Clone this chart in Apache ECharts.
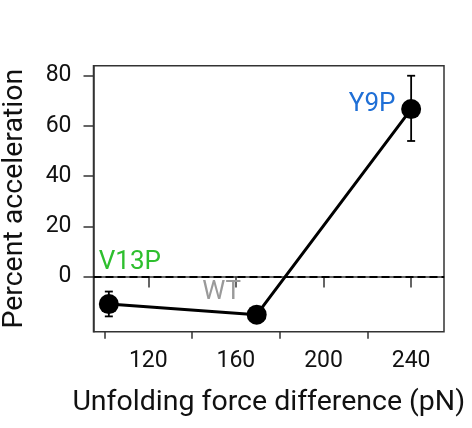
<!DOCTYPE html>
<html>
<head>
<meta charset="utf-8">
<script src="https://cdn.jsdelivr.net/npm/echarts@6/dist/echarts.min.js"></script>
<style>
  html, body { margin: 0; padding: 0; background: #fff; }
  #chart { width: 472px; height: 428px; }
</style>
</head>
<body>
<div id="chart"></div>
<script>
// data
let mutants = ['V13P', 'WT', 'Y9P'];
let forceDiff = [102, 169.5, 240];
let accel = [-11, -15.2, 66.7];
let errLow = [-15.9, -15.2, 54];
let errHigh = [-6, -15.2, 80];
let labelColors = ['#2ebf2e', '#9a9a9a', '#1f6fd6'];
let labelOffsets = [[21, -42], [-35, -22], [-39, -5]];

let xTicks = [120, 160, 200, 240];
let xMinorTicks = [100, 140, 180, 220];
let yTicks = [0, 20, 40, 60, 80];

let font = 'Roboto';
let chart = echarts.init(document.getElementById('chart'));

let points = forceDiff.map(function (x, i) {
	return {
		value: [x, accel[i]],
		label: {
			show: true,
			formatter: mutants[i],
			position: 'inside',
			offset: labelOffsets[i],
			color: labelColors[i],
			fontSize: 26,
			fontFamily: font
		}
	};
});
let errData = forceDiff.map(function (x, i) {
	return [x, errLow[i], errHigh[i]];
});

option = {
	animation: false,
	grid: {
		left: 93.5, top: 65.7, right: 28, bottom: 96.3,
		outerBoundsMode: 'none',
		containLabel: false,
		show: true, borderColor: '#333', borderWidth: 1.5,
		backgroundColor: 'transparent'
	},
	xAxis: [{
		type: 'value',
		min: 95, max: 255,
		name: 'Unfolding force difference (pN)',
		nameLocation: 'middle',
		nameGap: 57,
		nameTextStyle: { fontSize: 28.5, fontFamily: font, color: '#111' },
		axisLine: { show: true, lineStyle: { color: '#333', width: 1.5 } },
		axisTick: { show: true, length: 11, customValues: xTicks, lineStyle: { color: '#333', width: 1.5 } },
		axisLabel: { show: true, customValues: xTicks, margin: 18, fontSize: 23, fontFamily: font, color: '#111' },
		splitLine: { show: false }
	}, {
		type: 'value',
		position: 'bottom',
		min: 95, max: 255,
		axisLine: { show: false },
		axisTick: { show: true, length: 7, customValues: xMinorTicks, lineStyle: { color: '#333', width: 1.5 } },
		axisLabel: { show: false },
		splitLine: { show: false }
	}],
	yAxis: {
		type: 'value',
		min: -22, max: 84,
		name: 'Percent acceleration',
		nameLocation: 'middle',
		nameGap: 64,
		nameTextStyle: { fontSize: 28.5, fontFamily: font, color: '#111' },
		axisLine: { show: true, lineStyle: { color: '#333', width: 1.5 } },
		axisTick: { show: true, length: 10, customValues: yTicks, lineStyle: { color: '#333', width: 1.5 } },
		axisLabel: { show: true, customValues: yTicks, margin: 22, fontSize: 23, fontFamily: font, color: '#111' },
		splitLine: { show: false }
	},
	series: [{
		type: 'custom',
		data: errData,
		z: 3,
		renderItem: function (params, api) {
			let x = api.value(0);
			let lo = api.coord([x, api.value(1)]);
			let hi = api.coord([x, api.value(2)]);
			let cap = 4;
			let st = { stroke: '#000', lineWidth: 1.8 };
			return {
				type: 'group',
				children: [
					{ type: 'line', shape: { x1: lo[0], y1: lo[1], x2: hi[0], y2: hi[1] }, style: st },
					{ type: 'line', shape: { x1: lo[0] - cap, y1: lo[1], x2: lo[0] + cap, y2: lo[1] }, style: st },
					{ type: 'line', shape: { x1: hi[0] - cap, y1: hi[1], x2: hi[0] + cap, y2: hi[1] }, style: st }
				]
			};
		}
	}, {
		type: 'line',
		data: points,
		z: 4,
		symbol: 'circle',
		symbolSize: 20,
		itemStyle: { color: '#000' },
		lineStyle: { color: '#000', width: 3 },
		markLine: {
			silent: true,
			symbol: 'none',
			label: { show: false },
			lineStyle: { color: '#000', type: [8, 4], width: 2 },
			data: [{ yAxis: 0 }]
		}
	}]
};
chart.setOption(option);
</script>
</body>
</html>
